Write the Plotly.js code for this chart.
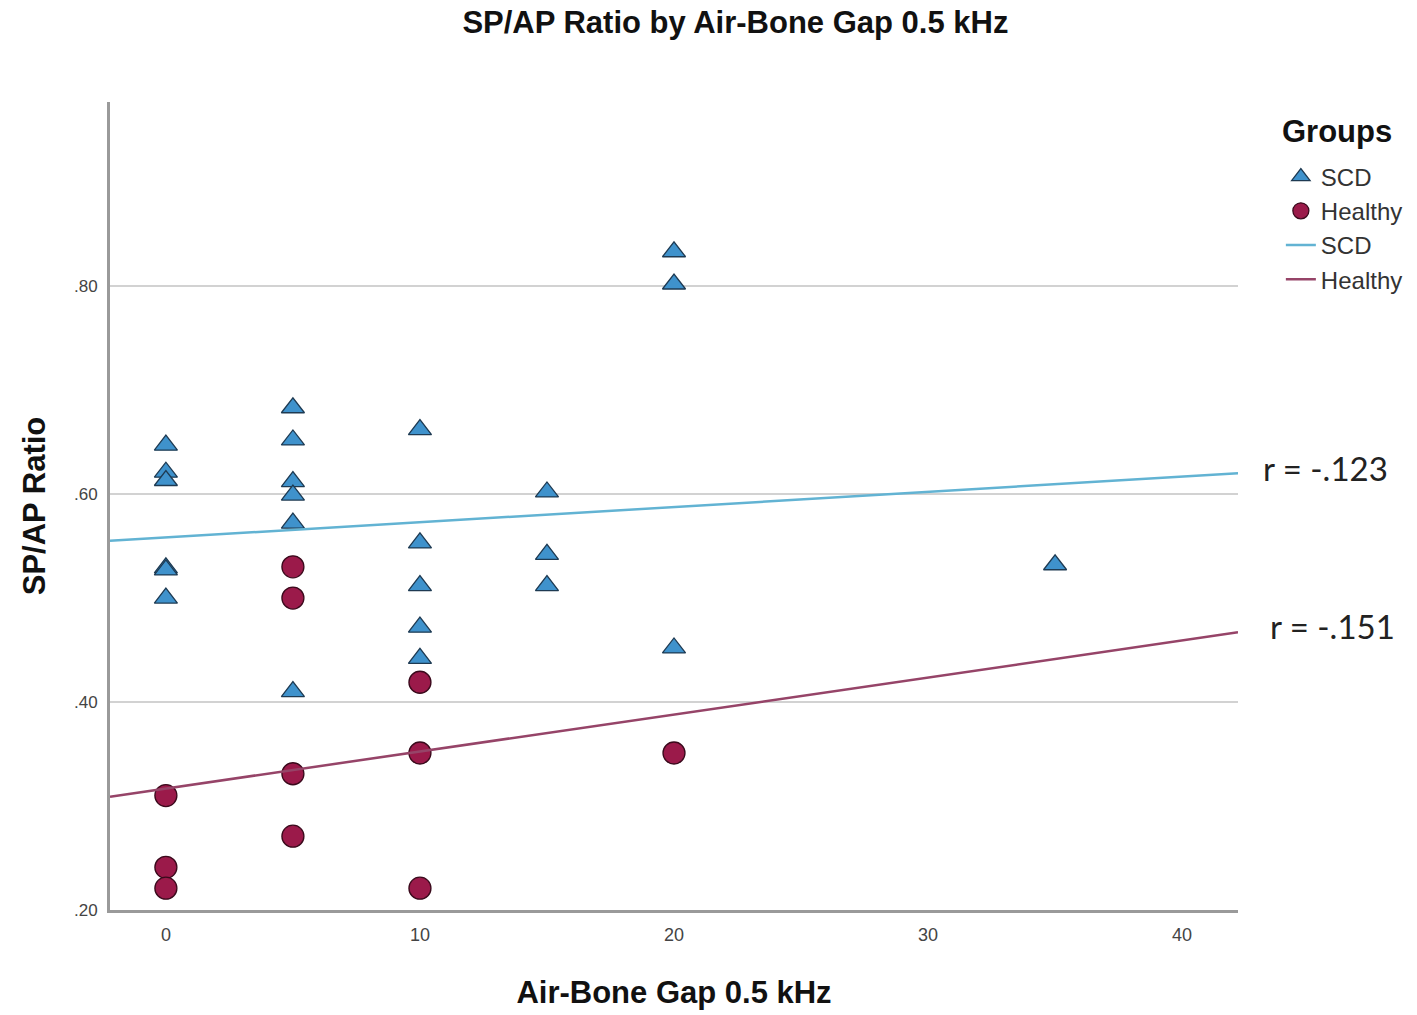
<!DOCTYPE html>
<html>
<head>
<meta charset="utf-8">
<script src="https://cdn.plot.ly/plotly-3.0.1.min.js"></script>
<style>html,body{margin:0;padding:0;background:#fff;}#chart{width:1417px;height:1015px;}</style>
</head>
<body>
<div id="chart"></div>
<script>
// SCD group (Air-Bone Gap 0.5 kHz vs SP/AP ratio)
const scdX = [0,0,0,0,0,0, 5,5,5,5,5,5, 10,10,10,10,10, 15,15,15, 20,20,20, 35];
const scdY = [0.647,0.621,0.613,0.529,0.527,0.500, 0.683,0.652,0.612,0.599,0.572,0.410, 0.662,0.553,0.512,0.472,0.442, 0.602,0.542,0.512, 0.833,0.802,0.452, 0.532];
// Healthy group
const healthyX = [0,0,0, 5,5,5,5, 10,10,10, 20];
const healthyY = [0.310,0.241,0.221, 0.530,0.500,0.331,0.271, 0.419,0.351,0.221, 0.351];
// Fit line endpoints (as drawn)
const fitX = [-2.2, 42.2];
const scdFitY = [0.555, 0.620];
const healthyFitY = [0.309, 0.467];
// Tick labels
const yTickVals = [0.2, 0.4, 0.6, 0.8];
const yTickText = [".20", ".40", ".60", ".80"];
const xTickVals = [0, 10, 20, 30, 40];
const rLabels = ["r = -.123", "r = -.151"];
const rLabelY = [0.625, 0.473];

const traces = [
  {x: scdX, y: scdY, type: 'scatter', mode: 'markers', name: 'SCD',
   marker: {symbol: 'triangle-up', size: 20, color: '#3f92cc', line: {color: '#1e3a52', width: 1.3}}},
  {x: healthyX, y: healthyY, type: 'scatter', mode: 'markers', name: 'Healthy',
   marker: {symbol: 'circle', size: 22, color: '#9b1a4a', line: {color: '#3a0a1c', width: 1.3}}},
  {x: fitX, y: scdFitY, type: 'scatter', mode: 'lines', name: 'SCD',
   line: {color: '#62b3d3', width: 2.5}},
  {x: fitX, y: healthyFitY, type: 'scatter', mode: 'lines', name: 'Healthy',
   line: {color: '#964468', width: 2.5}}
];

const layout = {
  width: 1417, height: 1015,
  margin: {l: 110, r: 179, t: 102, b: 105, autoexpand: false},
  paper_bgcolor: '#ffffff', plot_bgcolor: '#ffffff',
  font: {family: 'Liberation Sans, Arial, sans-serif', color: '#222'},
  title: {text: '<b>SP/AP Ratio by Air-Bone Gap 0.5 kHz</b>', x: 0.519, xanchor: 'center', y: 0.978, yanchor: 'middle',
          font: {size: 31, color: '#111', family: 'Liberation Sans, Arial, sans-serif'}},
  xaxis: {range: [-2.2, 42.2], tickvals: xTickVals, showgrid: false, zeroline: false,
          showline: true, linecolor: '#9a9a9a', linewidth: 3, ticks: '',
          tickfont: {size: 18, color: '#444'}, ticklabelstandoff: 6,
          title: {text: '<b>Air-Bone Gap 0.5 kHz</b>', font: {size: 31, color: '#111'}, standoff: 38}},
  yaxis: {range: [0.2, 0.977], tickvals: yTickVals, ticktext: yTickText, showgrid: true,
          gridcolor: '#d2d2d2', gridwidth: 2, zeroline: false,
          showline: true, linecolor: '#9a9a9a', linewidth: 3, ticks: '',
          tickfont: {size: 17, color: '#444'}, ticklabelstandoff: 6,
          title: {text: '<b>SP/AP Ratio</b>', font: {size: 31, color: '#111'}, standoff: 20}},
  showlegend: true,
  legend: {x: 1.038, xanchor: 'left', y: 0.935, yanchor: 'top', bgcolor: 'rgba(0,0,0,0)',
           font: {size: 24, color: '#333'}, itemwidth: 30, tracegroupgap: 0},
  annotations: [
    {x: 1.037, xref: 'paper', xanchor: 'left', y: (910 - 131) / 808, yref: 'paper', yanchor: 'middle', text: '<b>Groups</b>', showarrow: false,
     font: {size: 31, color: '#111'}},
    {x: 1.02, xref: 'paper', xanchor: 'left', y: rLabelY[0], yref: 'y', yanchor: 'middle', text: rLabels[0], showarrow: false,
     font: {size: 33, color: '#222', family: 'Lato, Carlito, sans-serif'}},
    {x: 1.027, xref: 'paper', xanchor: 'left', y: rLabelY[1], yref: 'y', yanchor: 'middle', text: rLabels[1], showarrow: false,
     font: {size: 33, color: '#222', family: 'Lato, Carlito, sans-serif'}}
  ]
};

Plotly.newPlot('chart', traces, layout, {displayModeBar: false, staticPlot: true});
</script>
</body>
</html>
